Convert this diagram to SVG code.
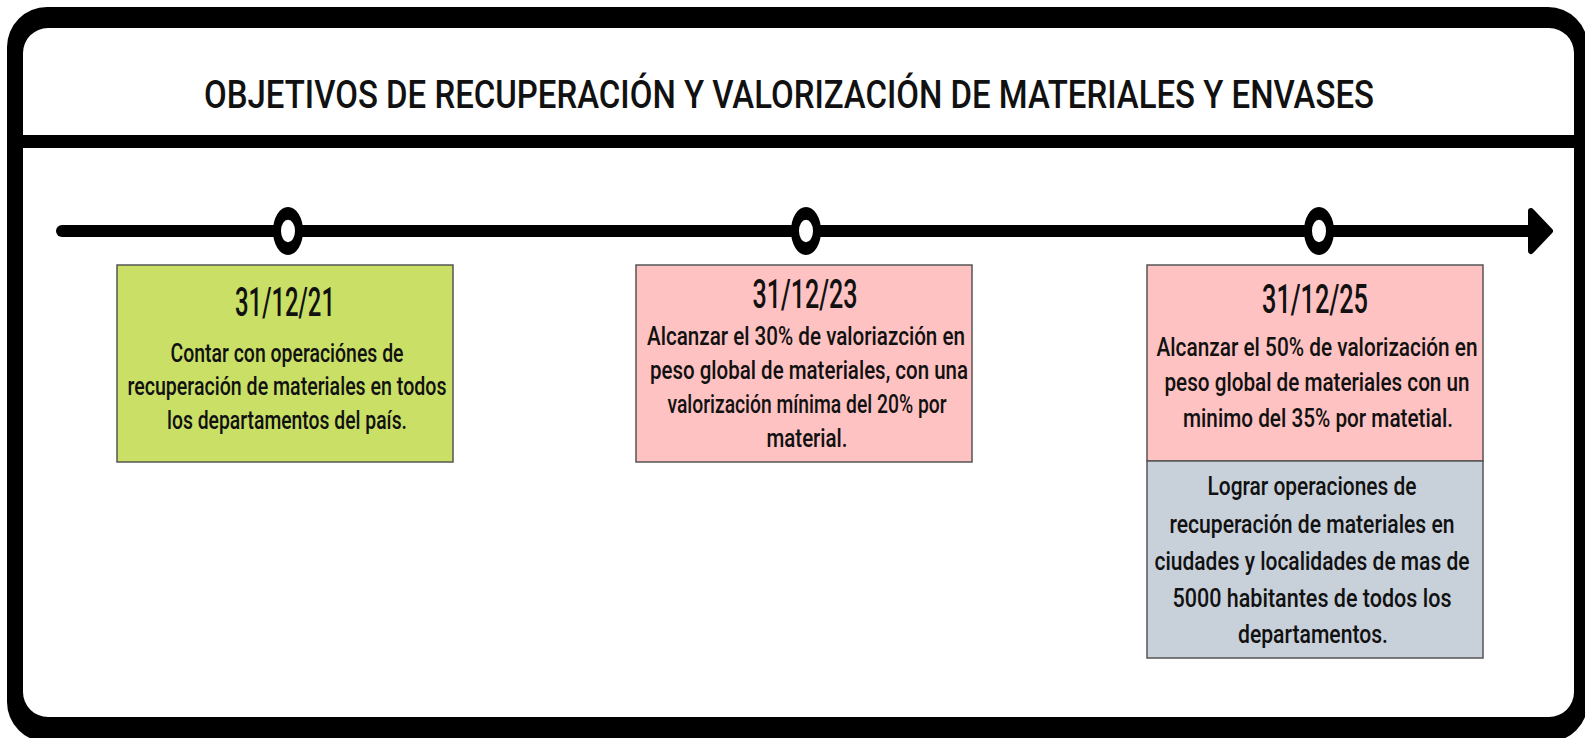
<svg xmlns="http://www.w3.org/2000/svg" width="1585" height="738" viewBox="0 0 1585 738">
<style>
.t{font-family:Roboto,"Liberation Sans",sans-serif;font-weight:500;fill:#111;text-anchor:middle}
.title{font-family:Roboto,"Liberation Sans",sans-serif;font-weight:500;font-size:38px;fill:#111;text-anchor:middle}
.date{font-size:41px}
.body{font-size:25px}
.box{stroke:#555;stroke-width:1.5}
</style>
<rect width="1585" height="738" fill="#fff"/>
<g id="frame">
<path fill="#000" fill-rule="evenodd" d="M47,7 H1548 A40,40 0 0 1 1588,47 V702 A40,40 0 0 1 1548,742 H47 A40,40 0 0 1 7,702 V47 A40,40 0 0 1 47,7 Z M48,28 H1549 A25,25 0 0 1 1574,53 V692 A25,25 0 0 1 1549,717 H48 A25,25 0 0 1 23,692 V53 A25,25 0 0 1 48,28 Z"/>
<rect x="23" y="135" width="1551" height="13" fill="#000"/>
</g>
<g id="title">
<text class="title" x="789" y="108" textLength="1170" lengthAdjust="spacingAndGlyphs">OBJETIVOS DE RECUPERACIÓN Y VALORIZACIÓN DE MATERIALES Y ENVASES</text>
</g>
<g id="connectors">
<line x1="62" y1="231" x2="1532" y2="231" stroke="#000" stroke-width="12" stroke-linecap="round"/>
<polygon points="1531,211 1550,231 1531,251" fill="#000" stroke="#000" stroke-width="6" stroke-linejoin="round"/>
</g>
<g id="milestone1">
<circle cx="288" cy="144.4" r="11" fill="#fff" stroke="#000" stroke-width="8" transform="scale(1,1.6)"/>
</g>
<g id="milestone2">
<circle cx="806" cy="144.4" r="11" fill="#fff" stroke="#000" stroke-width="8" transform="scale(1,1.6)"/>
</g>
<g id="milestone3">
<circle cx="1319" cy="144.4" r="11" fill="#fff" stroke="#000" stroke-width="8" transform="scale(1,1.6)"/>
</g>
<g id="box1">
<rect class="box" x="117" y="265" width="336" height="197" fill="#c9df66"/>
<text class="t date" x="285" y="316" textLength="100" lengthAdjust="spacingAndGlyphs">31/12/21</text>
<text class="t body" x="287" y="362" textLength="233" lengthAdjust="spacingAndGlyphs">Contar con operaciónes de</text>
<text class="t body" x="287" y="395" textLength="319" lengthAdjust="spacingAndGlyphs">recuperación de materiales en todos</text>
<text class="t body" x="287" y="429" textLength="240" lengthAdjust="spacingAndGlyphs">los departamentos del país.</text>
</g>
<g id="box2">
<rect class="box" x="636" y="265" width="336" height="197" fill="#ffc2c2"/>
<text class="t date" x="805" y="308" textLength="105" lengthAdjust="spacingAndGlyphs">31/12/23</text>
<text class="t body" x="806" y="345" textLength="318" lengthAdjust="spacingAndGlyphs">Alcanzar el 30% de valoriazción en</text>
<text class="t body" x="809" y="379" textLength="318" lengthAdjust="spacingAndGlyphs">peso global de materiales, con una</text>
<text class="t body" x="807" y="413" textLength="279" lengthAdjust="spacingAndGlyphs">valorización mínima del 20% por</text>
<text class="t body" x="807" y="447" textLength="81" lengthAdjust="spacingAndGlyphs">material.</text>
</g>
<g id="box3">
<rect class="box" x="1147" y="265" width="336" height="196" fill="#ffc2c2"/>
<text class="t date" x="1315" y="313" textLength="106" lengthAdjust="spacingAndGlyphs">31/12/25</text>
<text class="t body" x="1317" y="356" textLength="321" lengthAdjust="spacingAndGlyphs">Alcanzar el 50% de valorización en</text>
<text class="t body" x="1317" y="391" textLength="305" lengthAdjust="spacingAndGlyphs">peso global de materiales con un</text>
<text class="t body" x="1318" y="427" textLength="270" lengthAdjust="spacingAndGlyphs">minimo del 35% por matetial.</text>
</g>
<g id="box4">
<rect class="box" x="1147" y="461" width="336" height="197" fill="#c8d0da"/>
<text class="t body" x="1312" y="495" textLength="209" lengthAdjust="spacingAndGlyphs">Lograr operaciones de</text>
<text class="t body" x="1312" y="533" textLength="285" lengthAdjust="spacingAndGlyphs">recuperación de materiales en</text>
<text class="t body" x="1312" y="570" textLength="315" lengthAdjust="spacingAndGlyphs">ciudades y localidades de mas de</text>
<text class="t body" x="1312" y="607" textLength="279" lengthAdjust="spacingAndGlyphs">5000 habitantes de todos los</text>
<text class="t body" x="1313" y="643" textLength="150" lengthAdjust="spacingAndGlyphs">departamentos.</text>
</g>
</svg>
